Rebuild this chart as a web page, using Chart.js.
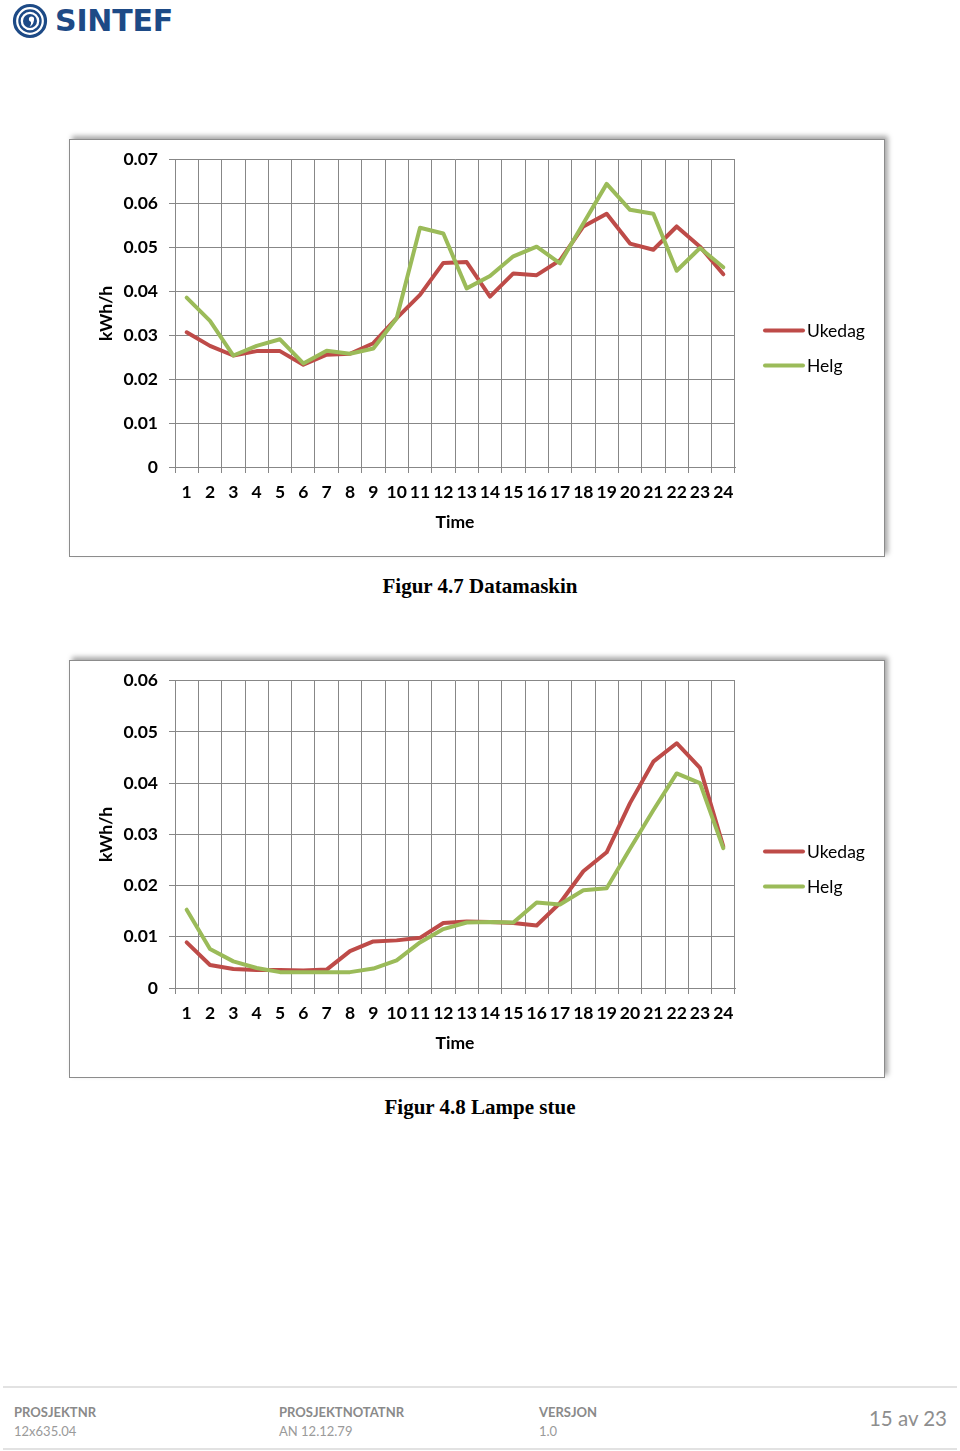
<!DOCTYPE html>
<html lang="no">
<head>
<meta charset="utf-8">
<title>Figur 4.7 og 4.8</title>
<script src="https://cdn.jsdelivr.net/npm/chart.js@4.4.1/dist/chart.umd.min.js"></script>
<style>
    body {
        margin: 0;
        width: 960px;
        height: 1451px;
        position: relative;
        overflow: hidden;
        background: #fff;
        font-family: Lato, "Open Sans", sans-serif;
    }
    .logo {
        position: absolute;
        left: 11px;
        top: 0;
        display: flex;
        align-items: center;
        height: 40px;
    }
    .logo span {
        margin-left: 6px;
        font: bold 30px "DejaVu Sans", sans-serif;
        color: #1d4a86;
        letter-spacing: -0.2px;
    }
    .ramme {
        position: absolute;
        left: 69px;
        width: 814px;
        height: 416px;
        border: 1px solid #8c8c8c;
        background: #fff;
        box-shadow: 3px -3px 5px rgba(0, 0, 0, 0.35);
    }
    .ramme canvas { display: block; }
    .figurtekst {
        position: absolute;
        left: 0;
        width: 960px;
        text-align: center;
        font: bold 21px "Liberation Serif", "Times New Roman", serif;
        line-height: 24px;
        color: #000;
    }
    .bunn {
        position: absolute;
        left: 3px;
        width: 954px;
        top: 1386px;
        height: 60px;
        border-top: 2px solid #e2e2e2;
        border-bottom: 2px solid #e2e2e2;
    }
    .felt {
        position: absolute;
        top: 15px;
        font-size: 13px;
        line-height: 19px;
        color: #9a9a9a;
    }
    .felt b { color: #8a8a8a; }
    .side {
        position: absolute;
        right: 10px;
        top: 18px;
        font-size: 20.5px;
        color: #8e8e8e;
    }
</style>
</head>
<body>

<div class="logo">
    <svg width="38" height="38" viewBox="0 0 38 38">
        <circle cx="19" cy="20" r="15.5" fill="none" stroke="#1d4a86" stroke-width="3.2"/>
        <circle cx="19" cy="20" r="10.5" fill="none" stroke="#1d4a86" stroke-width="2.4"/>
        <circle cx="19" cy="20" r="7" fill="#1d4a86"/>
        <circle cx="20.5" cy="18" r="2.6" fill="#fff"/>
        <path d="M22.8 18.5 Q23 23.5 18.5 26 Q21 22.5 19.5 20 Z" fill="#fff"/>
    </svg>
    <span>SINTEF</span>
</div>

<div class="ramme" style="top:139px"><canvas id="grafDatamaskin" width="814" height="416"></canvas></div>
<div class="figurtekst" style="top:574px">Figur 4.7 Datamaskin</div>

<div class="ramme" style="top:660px"><canvas id="grafLampe" width="814" height="416"></canvas></div>
<div class="figurtekst" style="top:1095px">Figur 4.8 Lampe stue</div>

<div class="bunn">
    <div class="felt" style="left:11px"><b>PROSJEKTNR</b><br>12x635.04</div>
    <div class="felt" style="left:276px"><b>PROSJEKTNOTATNR</b><br>AN 12.12.79</div>
    <div class="felt" style="left:536px"><b>VERSJON</b><br>1.0</div>
    <div class="side">15 av 23</div>
</div>

<script>
// Timer i døgnet
const timer = ["1", "2", "3", "4", "5", "6", "7", "8", "9", "10", "11", "12",
    "13", "14", "15", "16", "17", "18", "19", "20", "21", "22", "23", "24"];

// Figur 4.7 Datamaskin (kWh/h)
const datamaskinUkedag = [0.0307, 0.0276, 0.0254, 0.0264, 0.0264, 0.0233, 0.0256, 0.0258, 0.0282, 0.0339, 0.0392, 0.0465,
    0.0467, 0.0388, 0.0441, 0.0437, 0.0471, 0.0548, 0.0577, 0.0509, 0.0495, 0.0548, 0.0502, 0.0439];
const datamaskinHelg = [0.0386, 0.0333, 0.0254, 0.0276, 0.0291, 0.0236, 0.0265, 0.0258, 0.0270, 0.0339, 0.0545, 0.0532,
    0.0407, 0.0435, 0.0480, 0.0502, 0.0464, 0.0555, 0.0645, 0.0586, 0.0577, 0.0447, 0.0499, 0.0455];
const datamaskinTicks = [0, 0.01, 0.02, 0.03, 0.04, 0.05, 0.06, 0.07];

// Figur 4.8 Lampe stue (kWh/h)
const lampeUkedag = [0.0089, 0.0045, 0.0037, 0.0035, 0.0035, 0.0034, 0.0036, 0.0072, 0.0091, 0.0093, 0.0098, 0.0127,
    0.0130, 0.0129, 0.0127, 0.0122, 0.0166, 0.0228, 0.0265, 0.0361, 0.0442, 0.0478, 0.0430, 0.0276];
const lampeHelg = [0.0153, 0.0076, 0.0052, 0.0039, 0.0031, 0.0031, 0.0031, 0.0031, 0.0038, 0.0054, 0.0089, 0.0115,
    0.0128, 0.0129, 0.0128, 0.0167, 0.0163, 0.0191, 0.0195, 0.0272, 0.0347, 0.0419, 0.0400, 0.0273];
const lampeTicks = [0, 0.01, 0.02, 0.03, 0.04, 0.05, 0.06];

const gridFarge = "#878787";
const fetFont = { family: "Lato", size: 17.5, weight: "bold" };
// lav linjehøyde så toppetiketten ikke skyver plottet ned
const yTickFont = { family: "Lato", size: 17.5, weight: "bold", lineHeight: 1 };

// Legende til høyre, linje + tekst
const legendeLinjer = {
    id: "legendeLinjer",
    afterDraw(chart) {
        const ctx = chart.ctx;
        const x = chart.chartArea.right + 29;
        const midt = chart.height / 2;
        ctx.save();
        ctx.font = "17.5px Lato";
        ctx.textBaseline = "middle";
        chart.data.datasets.forEach((ds, i) => {
            const y = midt - 17.5 + i * 35;
            ctx.strokeStyle = ds.borderColor;
            ctx.lineWidth = 4;
            ctx.lineCap = "round";
            ctx.beginPath();
            ctx.moveTo(x + 1, y);
            ctx.lineTo(x + 39, y);
            ctx.stroke();
            ctx.fillStyle = "#000";
            ctx.fillText(ds.label, x + 43, y + 1);
        });
        ctx.restore();
    },
};

function lagGraf(id, ukedag, helg, yTicks) {
    return new Chart(document.getElementById(id), {
        type: "line",
        data: {
            labels: timer,
            datasets: [
                { label: "Ukedag", data: ukedag, borderColor: "#BE4B48", order: 1 },
                { label: "Helg", data: helg, borderColor: "#9BBB59", order: 0 },
            ],
        },
        options: {
            responsive: false,
            animation: false,
            layout: { padding: { top: 19, right: 149, bottom: 0, left: 0 } },
            elements: {
                point: { radius: 0 },
                line: { borderWidth: 4, tension: 0, borderCapStyle: "round", borderJoinStyle: "round" },
            },
            plugins: { legend: { display: false }, tooltip: { enabled: false } },
            scales: {
                x: {
                    offset: true,
                    grid: { offset: true, color: gridFarge, tickLength: 6 },
                    border: { color: gridFarge },
                    ticks: { color: "#000", font: fetFont, padding: 9, maxRotation: 0, autoSkip: false },
                    title: { display: true, text: "Time", color: "#000", font: fetFont, padding: { top: 0, bottom: 23 } },
                    afterFit: (s) => { s.height = 89; },
                },
                y: {
                    min: 0,
                    max: yTicks[yTicks.length - 1],
                    afterBuildTicks: (s) => { s.ticks = yTicks.map((v) => ({ value: v })); },
                    grid: { color: gridFarge, tickLength: 6 },
                    border: { color: gridFarge },
                    ticks: {
                        color: "#000",
                        font: yTickFont,
                        padding: 11,
                        callback: (v) => (v === 0 ? "0" : v.toFixed(2)),
                    },
                    title: { display: true, text: "kWh/h", color: "#000", font: fetFont, padding: { top: 26, bottom: 0 } },
                    afterFit: (s) => { s.width = 105; },
                },
            },
        },
        plugins: [legendeLinjer],
    });
}

document.fonts.load("bold 17.5px Lato").then(() => {
    lagGraf("grafDatamaskin", datamaskinUkedag, datamaskinHelg, datamaskinTicks);
    lagGraf("grafLampe", lampeUkedag, lampeHelg, lampeTicks);
});
</script>
</body>
</html>
